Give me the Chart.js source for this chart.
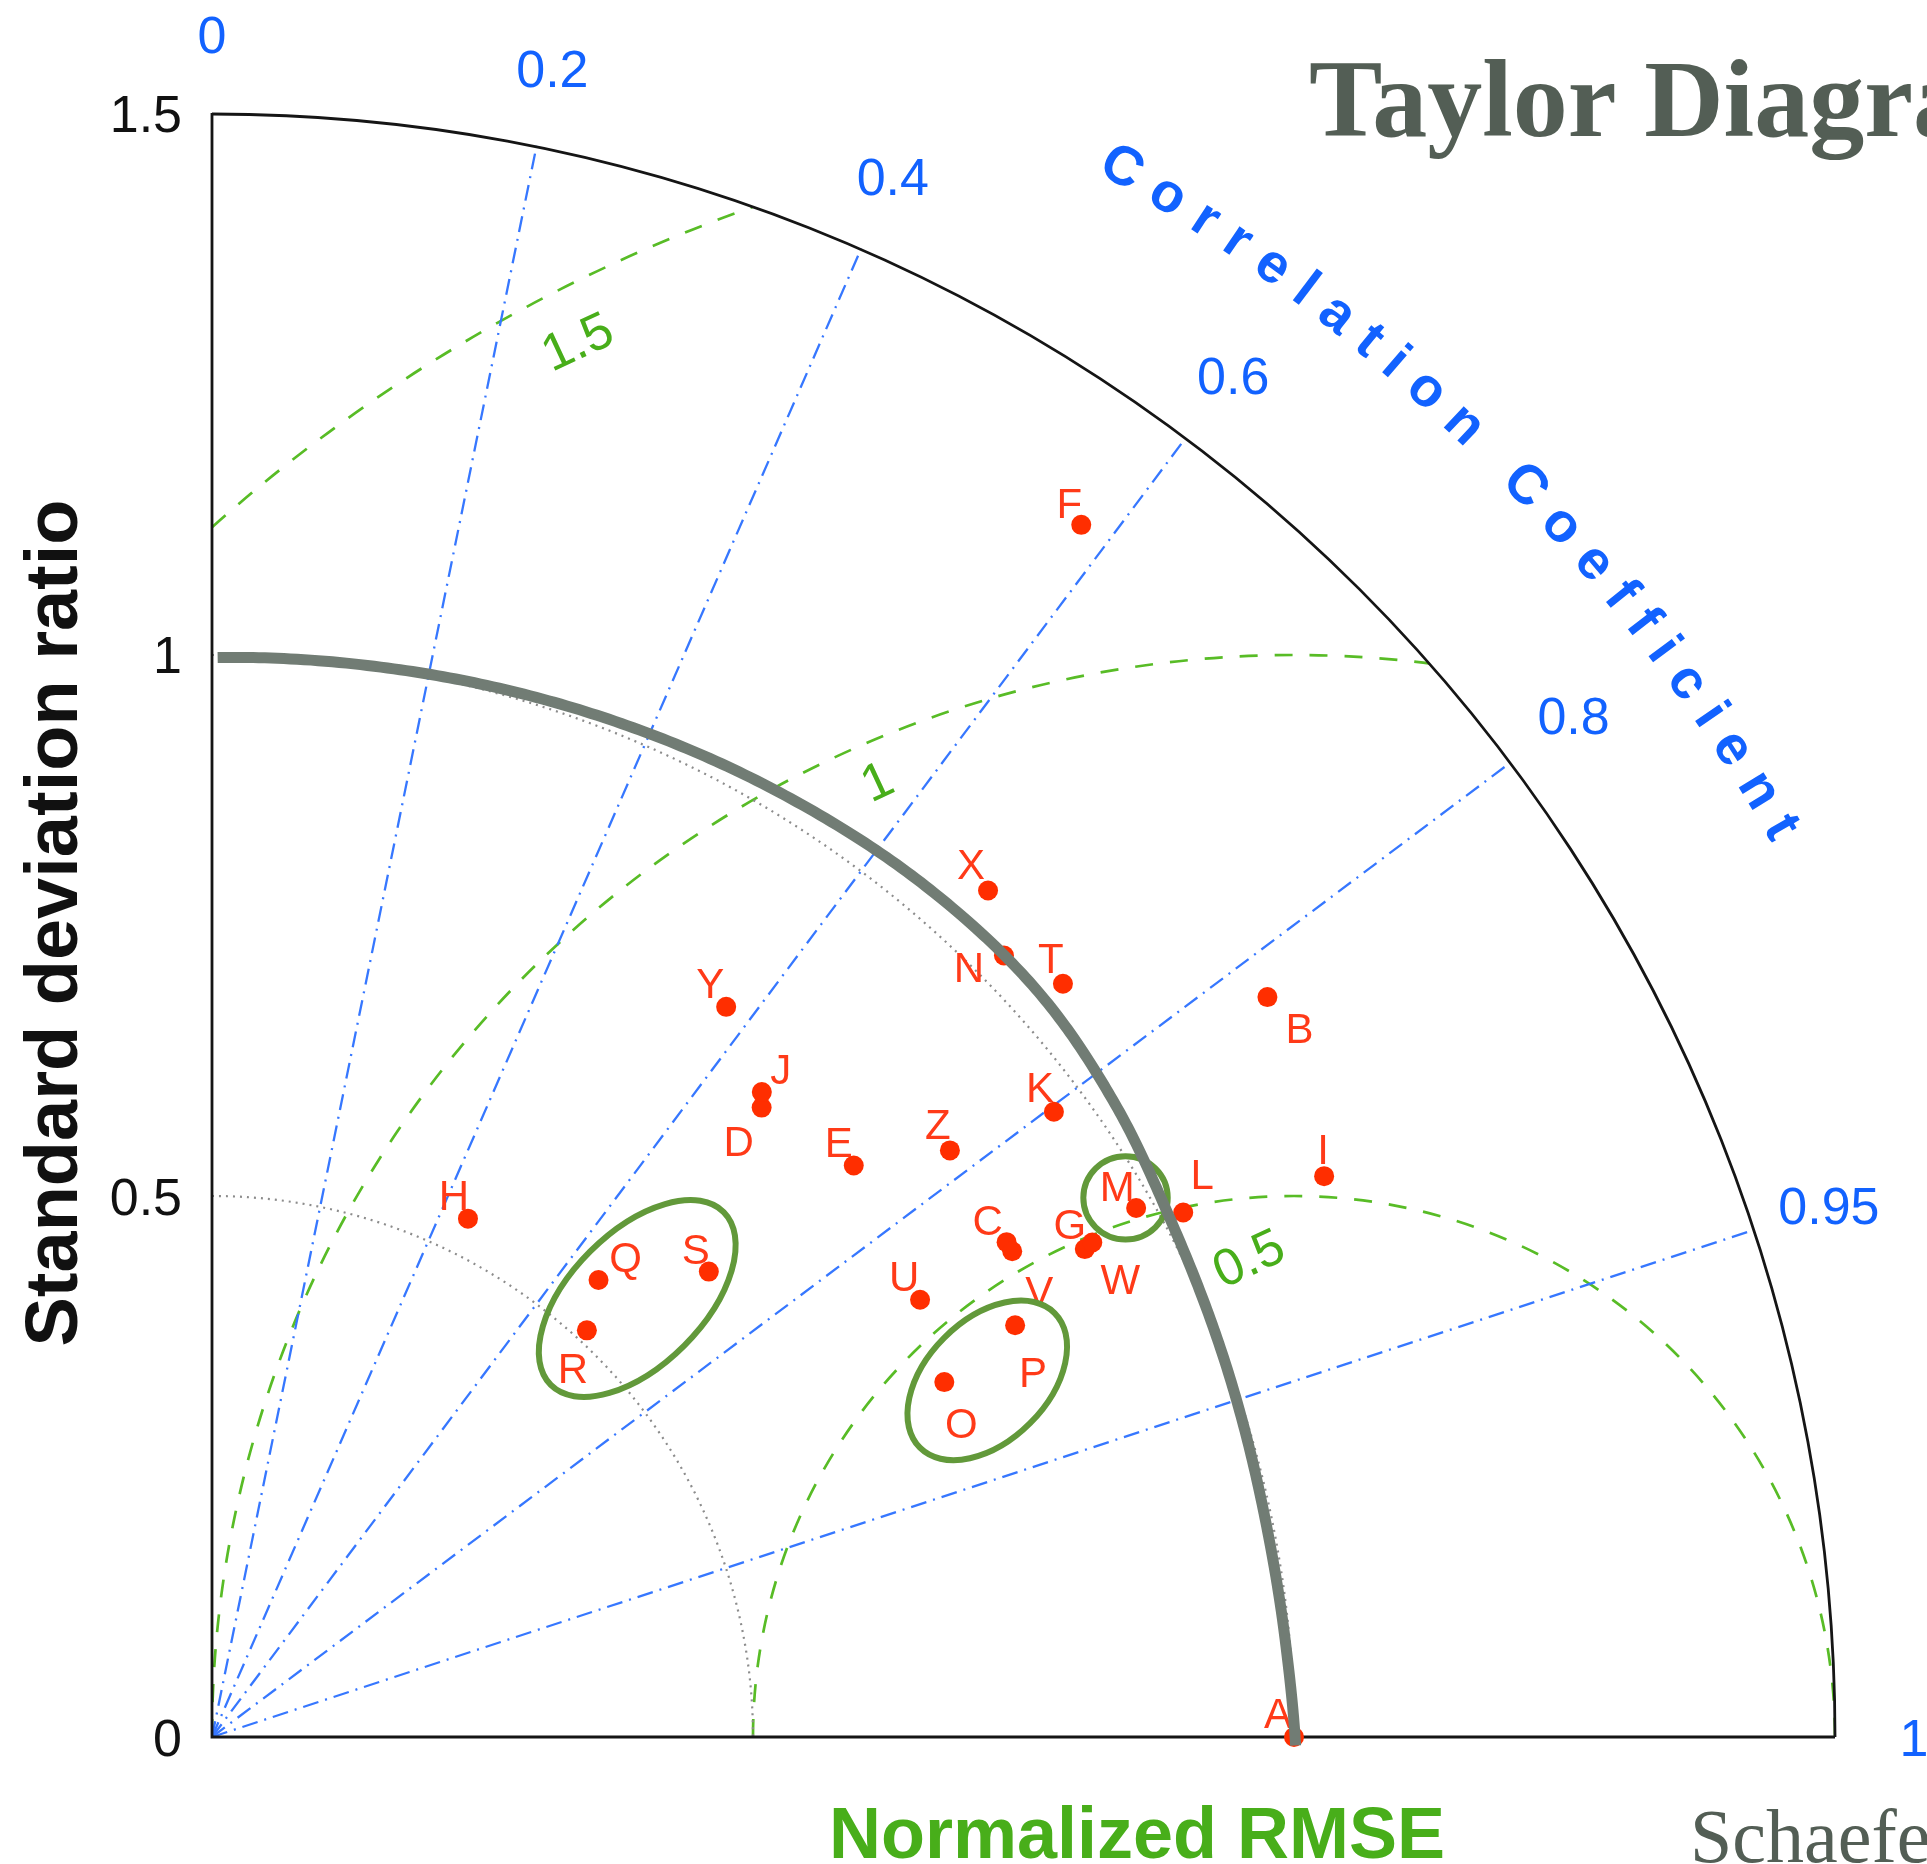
<!DOCTYPE html>
<html>
<head>
<meta charset="utf-8">
<title>Taylor Diagram</title>
<script src="https://cdn.jsdelivr.net/npm/chart.js@4.4.1/dist/chart.umd.min.js"></script>
<style>
  html, body { margin: 0; padding: 0; background: #ffffff; }
  #wrap { position: relative; width: 1927px; height: 1864px; overflow: hidden; }
  canvas { display: block; }
</style>
</head>
<body>
<div id="wrap"><canvas id="taylor" width="1927" height="1864"></canvas></div>
<script>
// ---- Model statistics (normalised by the observations) ----
const modelNames  = ['A','B','C','D','E','F','G','H','I','J','K','L','M','N','O','P','Q','R','S','T','U','V','W','X','Y','Z'];
const stdRatio    = [1.000,1.191,0.865,0.772,0.794,1.378,0.924,0.534,1.151,0.783,0.969,1.020,0.984,1.028,0.752,0.834,0.553,0.511,0.629,1.050,0.769,0.865,0.933,1.061,0.825,0.871];
const correlation = [1.000,0.819,0.849,0.658,0.747,0.583,0.873,0.443,0.893,0.649,0.803,0.880,0.868,0.712,0.900,0.890,0.646,0.678,0.730,0.749,0.851,0.855,0.872,0.676,0.576,0.783];

// ---- Axis / grid levels ----
const stdTicks   = [0, 0.5, 1, 1.5];
const corrTicks  = [0, 0.2, 0.4, 0.6, 0.8, 0.95, 1];
const rmseLevels = [0.5, 1, 1.5];
const stdArcs    = [0.5, 1];

// ---- Layout: label nudges (px) for each model letter ----
const labelNudge = [[-16,-24],[32,31],[-19,-22],[-23,33],[-15,-23],[-12,-22],[-15,-25],[-14,-24],[-1,-27],[19,-23],[-14,-25],[19,-38],[-19,-22],[-35,12],[17,41],[18,47],[27,-23],[-14,38],[-13,-23],[-12,-26],[-16,-24],[27,40],[28,36],[-17,-27],[-16,-24],[-12,-26]];
// RMSE label placement: angle (deg) around the reference point and inset from the arc
const rmseLabelAngle = [95.5, 113.6, 117.2];
const rmseLabelInset = [0.054, 0.035, 0.049];
// Hand-drawn highlights, in diagram units
const highlightEllipses = [
  { cx: 0.393,  cy: 0.405,  a: 0.113, b: 0.0615, tilt: 45 },
  { cx: 0.7165, cy: 0.3294, a: 0.088, b: 0.056,  tilt: 45 },
  { cx: 0.8443, cy: 0.498,  a: 0.039, b: 0.0385, tilt: 0 }
];
// Hand-drawn stroke around unit spread: [angle deg, radius]
const spreadStroke = [[89.7,0.997],[80,1.001],[70,1.008],[60,1.017],[50,1.026],[42,1.028],[35,1.019],[28,1.006],[20,0.998],[12,0.994],[5,0.996],[-0.45,1.0015]];

const BLUE_TXT = '#1262ff', BLUE_LN = '#3677ff';
const GREEN_LN = '#58bc26', GREEN_TXT = '#48ae1a';
const RED = '#ff2e00', RED_TXT = '#ff3a18';
const SANS = '"Liberation Sans", Arial, Helvetica, sans-serif';
const SERIF = '"Liberation Serif", "Times New Roman", serif';
const RMAX = 1.5;
const rad = d => d * Math.PI / 180;

const points = stdRatio.map((s, i) => ({
  x: s * correlation[i],
  y: s * Math.sqrt(Math.max(0, 1 - correlation[i] * correlation[i]))
}));

function geom(chart) {
  const xs = chart.scales.x, ys = chart.scales.y;
  const ox = xs.getPixelForValue(0), oy = ys.getPixelForValue(0);
  const u = xs.getPixelForValue(1) - ox;
  const P = (x, y) => [xs.getPixelForValue(x), ys.getPixelForValue(y)];
  return { ox, oy, u, P };
}

function quarterClip(ctx, g) {
  ctx.beginPath();
  ctx.moveTo(g.ox, g.oy);
  ctx.arc(g.ox, g.oy, RMAX * g.u, -Math.PI / 2, 0, false);
  ctx.closePath();
  ctx.clip();
}

const backdrop = {
  id: 'taylorBackdrop',
  beforeDatasetsDraw(chart) {
    const ctx = chart.ctx, g = geom(chart);
    ctx.save();

    // centred-RMS arcs around the reference point (1, 0)
    ctx.save();
    quarterClip(ctx, g);
    const [rx, ry] = g.P(1, 0);
    ctx.strokeStyle = GREEN_LN; ctx.lineWidth = 2.7; ctx.setLineDash([18, 17]);
    rmseLevels.forEach(r => {
      ctx.beginPath();
      ctx.arc(rx, ry, r * g.u, Math.PI, 2 * Math.PI, false);
      ctx.stroke();
    });
    ctx.restore();

    // standard-deviation circles (dotted)
    ctx.strokeStyle = '#8c8c8c'; ctx.lineWidth = 2.2; ctx.setLineDash([2, 5]);
    stdArcs.forEach(r => {
      ctx.beginPath();
      ctx.arc(g.ox, g.oy, r * g.u, -Math.PI / 2, 0, false);
      ctx.stroke();
    });

    // correlation rays
    ctx.strokeStyle = BLUE_LN; ctx.lineWidth = 2.3; ctx.setLineDash([16, 7, 2, 7]);
    corrTicks.filter(c => c > 0 && c < 1).forEach(c => {
      const a = Math.acos(c);
      const [x1, y1] = g.P(RMAX * Math.cos(a), RMAX * Math.sin(a));
      ctx.beginPath(); ctx.moveTo(g.ox, g.oy); ctx.lineTo(x1, y1); ctx.stroke();
    });

    // frame: axes and outer arc
    ctx.setLineDash([]);
    ctx.strokeStyle = '#151515'; ctx.lineWidth = 2.8;
    const [tx, ty] = g.P(0, RMAX), [bx, by] = g.P(RMAX, 0);
    ctx.beginPath(); ctx.moveTo(tx, ty); ctx.lineTo(g.ox, g.oy); ctx.lineTo(bx, by); ctx.stroke();
    ctx.beginPath(); ctx.arc(g.ox, g.oy, RMAX * g.u, -Math.PI / 2, 0, false); ctx.stroke();

    // std ratio tick labels
    ctx.font = '52px ' + SANS; ctx.fillStyle = '#111111';
    ctx.textAlign = 'right'; ctx.textBaseline = 'alphabetic';
    stdTicks.forEach(v => {
      const [, y] = g.P(0, v);
      ctx.fillText(String(v), g.ox - 30, y + 19);
    });

    // correlation tick labels
    ctx.fillStyle = BLUE_TXT; ctx.textAlign = 'center';
    corrTicks.forEach(c => {
      const a = Math.acos(c), r = 1.573;
      const [x, y] = g.P(r * Math.cos(a), r * Math.sin(a));
      ctx.fillText(String(c), x, y + 19);
    });

    // RMSE labels
    ctx.fillStyle = GREEN_TXT; ctx.font = '52px ' + SANS;
    rmseLevels.forEach((r, i) => {
      const a = rad(rmseLabelAngle[i]), rr = r - rmseLabelInset[i];
      const [x, y] = g.P(1 + rr * Math.cos(a), rr * Math.sin(a));
      ctx.save();
      ctx.translate(x, y); ctx.rotate(rad(-25));
      ctx.fillText(String(r), 0, 19);
      ctx.restore();
    });

    ctx.restore();
  }
};

function catmull(p0, p1, p2, p3, t) {
  const t2 = t * t, t3 = t2 * t;
  return 0.5 * (2 * p1 + (-p0 + p2) * t + (2 * p0 - 5 * p1 + 4 * p2 - p3) * t2 + (-p0 + 3 * p1 - 3 * p2 + p3) * t3);
}

function drawArcText(ctx, text, cx, cy, R, startDeg, endDeg) {
  const chars = [...text];
  const w = chars.map(c => ctx.measureText(c).width);
  const span = w.reduce((a, b) => a + b, 0) - w[0] / 2 - w[w.length - 1] / 2;
  const L = R * rad(startDeg - endDeg);
  const gap = (L - span) / (chars.length - 1);
  let pos = 0;
  chars.forEach((c, i) => {
    const a = rad(startDeg) - pos / R;
    ctx.save();
    ctx.translate(cx + R * Math.cos(a), cy - R * Math.sin(a));
    ctx.rotate(Math.PI / 2 - a);
    ctx.fillText(c, 0, 0);
    ctx.restore();
    if (i < chars.length - 1) pos += w[i] / 2 + gap + w[i + 1] / 2;
  });
}

const overlay = {
  id: 'taylorOverlay',
  afterDatasetsDraw(chart) {
    const ctx = chart.ctx, g = geom(chart);
    const meta = chart.getDatasetMeta(0);
    ctx.save();

    // model letters
    ctx.font = '42px ' + SANS; ctx.fillStyle = RED_TXT;
    ctx.textAlign = 'center'; ctx.textBaseline = 'alphabetic';
    meta.data.forEach((el, i) => {
      const [dx, dy] = labelNudge[i];
      ctx.fillText(modelNames[i], el.x + dx, el.y + dy + 15);
    });

    // highlight ellipses
    ctx.strokeStyle = '#62993a'; ctx.lineWidth = 6;
    highlightEllipses.forEach(e => {
      const [x, y] = g.P(e.cx, e.cy);
      ctx.beginPath();
      ctx.ellipse(x, y, e.a * g.u, e.b * g.u, rad(-e.tilt), 0, 2 * Math.PI);
      ctx.stroke();
    });

    // thick stroke around unit spread (smooth spline through the guide points)
    ctx.strokeStyle = '#717c74'; ctx.lineWidth = 11; ctx.lineCap = 'butt'; ctx.lineJoin = 'round';
    ctx.beginPath();
    const n = spreadStroke.length;
    let first = true;
    for (let i = 0; i < n - 1; i++) {
      const p0 = spreadStroke[Math.max(0, i - 1)], p1 = spreadStroke[i];
      const p2 = spreadStroke[i + 1], p3 = spreadStroke[Math.min(n - 1, i + 2)];
      for (let k = 0; k <= 30; k++) {
        const t = k / 30;
        const th = rad(catmull(p0[0], p1[0], p2[0], p3[0], t));
        const r = catmull(p0[1], p1[1], p2[1], p3[1], t);
        const [x, y] = g.P(r * Math.cos(th), r * Math.sin(th));
        if (first) { ctx.moveTo(x, y); first = false; } else ctx.lineTo(x, y);
      }
    }
    ctx.stroke();

    // curved correlation caption
    ctx.font = 'bold 55px ' + SANS; ctx.fillStyle = BLUE_TXT;
    ctx.textAlign = 'center'; ctx.textBaseline = 'alphabetic';
    drawArcText(ctx, 'Correlation Coefficient', g.ox, g.oy, 1.68 * g.u - 20, 59.9, 30.1);

    // axis titles
    ctx.fillStyle = '#111111'; ctx.font = 'bold 74px ' + SANS;
    ctx.save();
    ctx.translate(77, 923); ctx.rotate(-Math.PI / 2);
    ctx.fillText('Standard deviation ratio', 0, 0);
    ctx.restore();

    ctx.fillStyle = GREEN_TXT; ctx.font = 'bold 72px ' + SANS;
    ctx.fillText('Normalized RMSE', 1137, 1858);

    // slide title and citation
    ctx.fillStyle = '#535e55'; ctx.textAlign = 'left';
    ctx.font = 'bold 110px ' + SERIF;
    ctx.fillText('Taylor Diagram', 1309, 136);
    ctx.font = '76px ' + SERIF;
    ctx.fillText('Schaefer et al.', 1690, 1862);

    ctx.restore();
  }
};

new Chart(document.getElementById('taylor').getContext('2d'), {
  type: 'scatter',
  data: {
    datasets: [{
      label: 'Models',
      data: points,
      pointRadius: 10,
      pointHoverRadius: 10,
      backgroundColor: RED,
      borderWidth: 0,
      clip: false
    }]
  },
  options: {
    responsive: false,
    devicePixelRatio: 1,
    animation: false,
    events: [],
    layout: { padding: { left: 212, right: 92, top: 113, bottom: 127 } },
    scales: {
      x: { type: 'linear', min: 0, max: RMAX, display: false },
      y: { type: 'linear', min: 0, max: RMAX, display: false }
    },
    plugins: { legend: { display: false }, tooltip: { enabled: false } }
  },
  plugins: [backdrop, overlay]
});
</script>
</body>
</html>
